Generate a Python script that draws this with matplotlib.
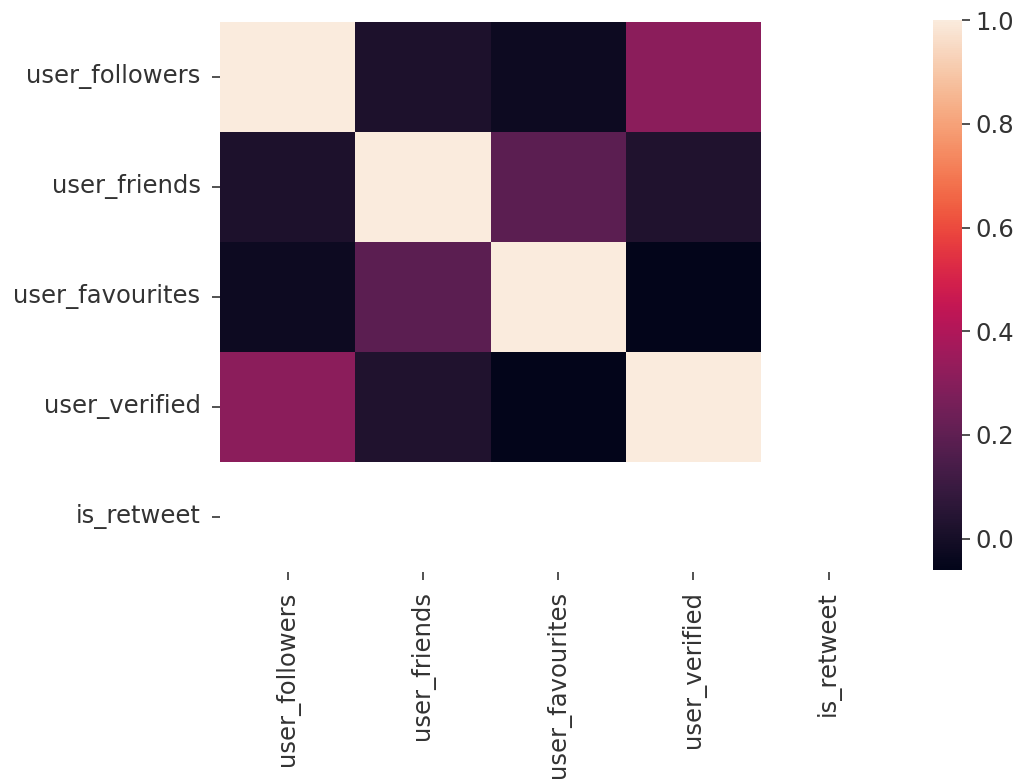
import numpy as np
import pandas as pd
import matplotlib
matplotlib.use("Agg")
import matplotlib.pyplot as plt
import seaborn as sns

# correlation of the tweet features; is_retweet is constant, so its row/column is NaN
columns = ["user_followers", "user_friends", "user_favourites", "user_verified", "is_retweet"]
followers_corr = [1.0, 0.02, -0.025, 0.31, np.nan]
friends_corr = [0.02, 1.0, 0.19, 0.03, np.nan]
favourites_corr = [-0.025, 0.19, 1.0, -0.061, np.nan]
verified_corr = [0.31, 0.03, -0.061, 1.0, np.nan]
retweet_corr = [np.nan] * 5

corr = pd.DataFrame([followers_corr, friends_corr, favourites_corr, verified_corr, retweet_corr],
                    index=columns, columns=columns)

plt.rcParams["font.family"] = ["DejaVu Sans"]
plt.rcParams["font.size"] = 17.5

fig = plt.figure(figsize=(10.2, 7.8), dpi=100)
ax = fig.add_axes([0.2157, 0.267, 0.663, 0.705])
cax = fig.add_axes([0.9147, 0.269, 0.0284, 0.705])

sns.heatmap(corr, ax=ax, cbar_ax=cax)

ax.tick_params(axis="both", labelsize=17.5, colors="#333333", length=6, width=1.2, pad=8)
cax.tick_params(labelsize=17.5, colors="#333333", length=6, width=1.2)
for lbl in ax.get_xticklabels():
    lbl.set_rotation(90)
for lbl in ax.get_yticklabels():
    lbl.set_rotation(0)

fig.savefig("out.png", dpi=100)
